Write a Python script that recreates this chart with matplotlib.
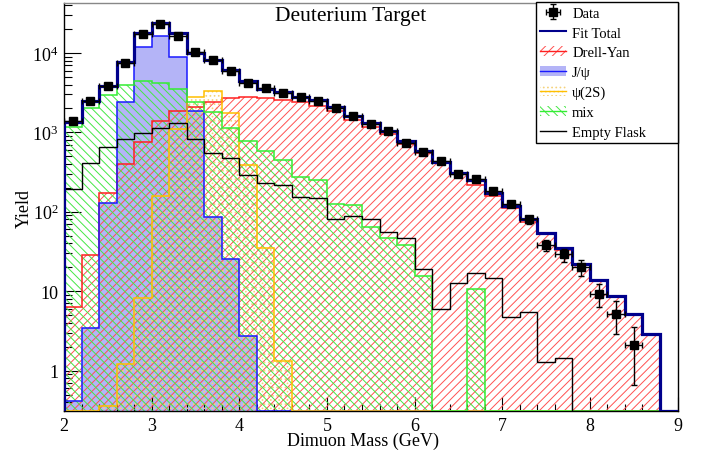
import numpy as np
import matplotlib
matplotlib.use("Agg")
import matplotlib.pyplot as plt
from matplotlib.patches import Patch
from matplotlib.lines import Line2D
from matplotlib.ticker import FixedLocator, LogLocator, MultipleLocator, NullFormatter

# bin edges, 0.2 GeV wide
edges = np.round(np.arange(2.0, 9.01, 0.2), 1)

# measured yield per bin (data only up to 8.6 GeV)
data = [1400, 2500, 3850, 7450, 17300, 23200, 16300, 10200, 8100, 5900, 4200,
        3600, 3150, 2800, 2500, 2050, 1620, 1290, 1050, 740, 570, 435, 300,
        255, 180, 126, 80, 38, 29, 20, 9.3, 5.2, 2.1]
data_err = [37, 50, 62, 86, 132, 152, 128, 101, 90, 77, 65, 60, 56, 53, 50,
            45, 40, 36, 32, 27, 24, 21, 17, 16, 13, 11, 9, 6.2, 5.4, 4.5, 3.05,
            2.3, 1.45]

fit_total = [1350, 2470, 3880, 7620, 17700, 23600, 17700, 10000, 8230, 6160,
             4470, 3530, 3200, 2760, 2570, 2110, 1620, 1306, 1054, 789, 590,
             422, 309, 248, 173, 118, 80, 53.7, 34.9, 22, 14, 8.6, 5.1, 2.86, 0]
drell_yan = [6.4, 28.8, 172, 400, 750, 1370, 1846, 2110, 2400, 2720, 2800,
             2700, 2590, 2440, 2170, 1880, 1410, 1160, 950, 704, 555, 416, 296,
             220, 158, 113, 75, 52, 33, 22, 14, 8.6, 5.1, 2.86, 0]
jpsi = [0.41, 3.44, 128, 2400, 11750, 16500, 8820, 1880, 86, 25.6, 2.7, 0, 0,
        0, 0, 0, 0, 0, 0, 0, 0, 0, 0, 0, 0, 0, 0, 0, 0, 0, 0, 0, 0, 0, 0]
psi2s = [0, 0, 0.36, 1.2, 8.2, 160, 1107, 2820, 3300, 1760, 383, 34.9, 1.31,
         0, 0, 0, 0, 0, 0, 0, 0, 0, 0, 0, 0, 0, 0, 0, 0, 0, 0, 0, 0, 0, 0]
mix = [1160, 2030, 2960, 3960, 4470, 4190, 3520, 2440, 1790, 1140, 789, 590,
       442, 273, 248, 125, 123, 64, 47, 37.7, 15.5, 0, 0, 10.8, 0, 0, 0, 0, 0,
       0, 0, 0, 0, 0, 0]
empty_flask = [195, 410, 650, 830, 985, 1126, 1306, 830, 548, 478, 292, 232,
               219, 155, 150, 80, 88, 80, 55.6, 46.8, 19.2, 6.0, 12.8, 16.7,
               14.8, 4.7, 5.4, 1.29, 1.46, 0, 0, 0, 0, 0, 0]

YMIN, YMAX = 0.31, 4.25e4

RED = "#ff2020"
BLUE = "#1a1aff"
JFILL = "#b4b4f7"
GOLD = "#ffbf00"
GREEN = "#33ee33"
NAVY = "#00008c"

plt.rcParams["font.family"] = ["Liberation Serif", "DejaVu Serif"]
plt.rcParams["mathtext.fontset"] = "custom"
plt.rcParams["mathtext.rm"] = "Liberation Serif"
plt.rcParams["hatch.linewidth"] = 0.7


def floor(v):
    v = np.asarray(v, dtype=float)
    return np.where(v > 0, v, YMIN)


fig = plt.figure(figsize=(7.02, 4.56), dpi=100)
ax = fig.add_axes([64 / 702, 1 - 412 / 456, (677.5 - 64) / 702, (412 - 4) / 456])
ax.set_yscale("log")

# fills first
ax.stairs(floor(jpsi), edges, baseline=YMIN, fill=True, facecolor=JFILL,
          edgecolor="none", zorder=1)
ax.stairs(floor(psi2s), edges, baseline=YMIN, fill=True, facecolor="none",
          edgecolor="#f5d27a", hatch="....", linewidth=0, zorder=2)
ax.stairs(floor(drell_yan), edges, baseline=YMIN, fill=True, facecolor="none",
          edgecolor="#ff5050", hatch="////", linewidth=0, zorder=2)
ax.stairs(floor(mix), edges, baseline=YMIN, fill=True, facecolor="none",
          edgecolor="#44e844", hatch="\\\\\\\\", linewidth=0, zorder=2)

# outlines
ax.stairs(floor(drell_yan), edges, baseline=YMIN, color=RED, lw=1.1, zorder=3)
ax.stairs(floor(jpsi), edges, baseline=YMIN, color=BLUE, lw=1.1, zorder=3)
ax.stairs(floor(psi2s), edges, baseline=YMIN, color=GOLD, lw=1.1, zorder=3)
ax.stairs(floor(mix), edges, baseline=YMIN, color=GREEN, lw=1.1, zorder=3)
ax.stairs(floor(empty_flask), edges, baseline=YMIN, color="black", lw=1.0, zorder=4)
ax.stairs(floor(fit_total), edges, baseline=YMIN, color=NAVY, lw=2.3, zorder=5)

centers = (edges[:-1] + edges[1:]) / 2
eb = ax.errorbar(centers[:len(data)], data, yerr=data_err, xerr=0.1, fmt="s",
                 color="black", ms=6, elinewidth=1, capsize=2.5, zorder=6)

ax.set_xlim(2, 9)
ax.set_ylim(YMIN, YMAX)

ax.xaxis.set_major_locator(MultipleLocator(1))
ax.xaxis.set_minor_locator(MultipleLocator(0.2))
ax.yaxis.set_major_locator(FixedLocator([1, 10, 100, 1000, 10000]))
ax.set_yticklabels(["1", "10", r"$\mathregular{10^{2}}$",
                    r"$\mathregular{10^{3}}$", r"$\mathregular{10^{4}}$"])
ax.yaxis.set_minor_locator(LogLocator(base=10, subs=np.arange(2, 10)))
ax.yaxis.set_minor_formatter(NullFormatter())

ax.tick_params(which="both", direction="in", top=False, right=False,
               labelsize=13, width=0.8)
ax.tick_params(axis="x", which="major", length=10, pad=4)
ax.tick_params(axis="x", which="minor", length=5)
ax.tick_params(axis="y", which="major", length=12, pad=4)
ax.tick_params(axis="y", which="minor", length=6)
for s in ax.spines.values():
    s.set_linewidth(1.0)
ax.spines["top"].set_color("#888888")

ax.set_xlabel("Dimuon Mass (GeV)", fontsize=13)
ax.set_ylabel("Yield", fontsize=13)
ax.xaxis.set_label_coords((363 - 64) / 613.5, -(433 - 412) / 408)
ax.yaxis.set_label_coords(-(64 - 33) / 613.5, 0.5)

fig.text(350.5 / 702, 1 - 16 / 456, "Deuterium Target", fontsize=15.5,
         ha="center", va="center")

handles = [
    eb,
    Line2D([], [], color=NAVY, lw=1.5),
    (Patch(facecolor="none", edgecolor="#ff5050", hatch="////", linewidth=0),
     Line2D([], [], color=RED, lw=1)),
    (Patch(facecolor=JFILL, edgecolor="none"), Line2D([], [], color=BLUE, lw=1)),
    (Patch(facecolor="none", edgecolor="#f5d27a", hatch="....", linewidth=0),
     Line2D([], [], color=GOLD, lw=1)),
    (Patch(facecolor="none", edgecolor="#44e844", hatch="\\\\\\\\", linewidth=0),
     Line2D([], [], color=GREEN, lw=1)),
    Line2D([], [], color="black", lw=1),
]
labels = ["Data", "Fit Total", "Drell-Yan", "J/ψ", "ψ(2S)", "mix", "Empty Flask"]

x0 = (535.7 - 64) / 613.5
leg = ax.legend(handles, labels, loc="upper left",
                bbox_to_anchor=(x0, 0.659, 1.0 - x0, 1.0 - 0.659 + 0.002),
                mode="expand", borderaxespad=0, fontsize=10.5, frameon=True,
                fancybox=False, edgecolor="black", framealpha=1,
                handlelength=1.8, handletextpad=0.4, labelspacing=0.45,
                borderpad=0.3)
leg.get_frame().set_linewidth(1.0)
leg.set_zorder(10)

fig.savefig("out.png", dpi=100)
